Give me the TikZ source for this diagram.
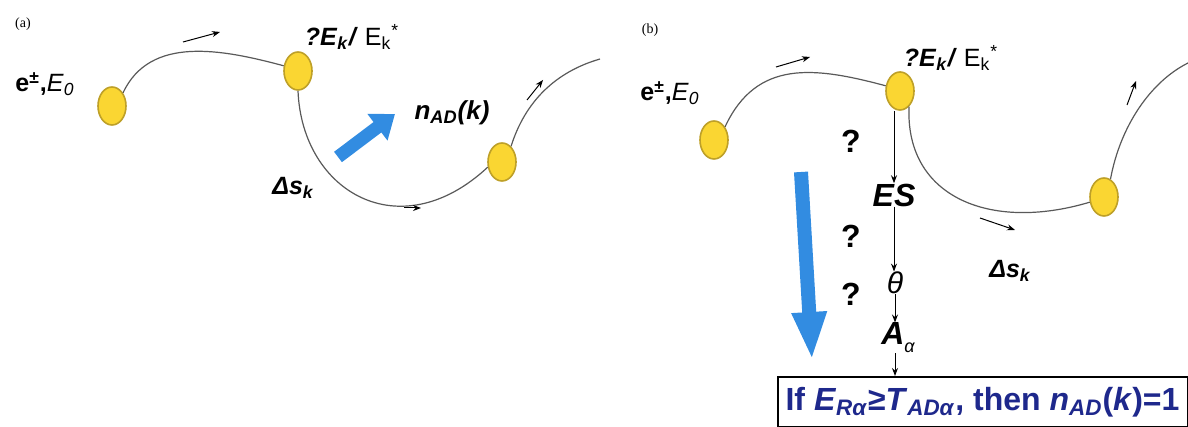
\documentclass[tikz,border=0pt]{standalone}
\usepackage{fontspec}
\setmainfont{Liberation Sans}
\newfontfamily\labelfont{Liberation Serif}
\usetikzlibrary{shapes.geometric,arrows.meta}
\definecolor{dotyellow}{RGB}{250,214,50}
\definecolor{dotedge}{RGB}{190,160,40}
\definecolor{fatblue}{RGB}{50,140,225}
\definecolor{condblue}{RGB}{30,40,140}

\begin{document}
\begin{tikzpicture}[x=0.5pt,y=0.5pt,
    dot/.style={ellipse,draw=dotedge,fill=dotyellow,line width=0.8pt,
        minimum width=14pt,minimum height=19pt,inner sep=0pt},
    track/.style={draw=black!65,line width=0.6pt},
    tick/.style={-{Stealth[length=4pt,width=3pt]},line width=0.5pt},
    fat/.style={fatblue,line width=6.5pt,-{Triangle[length=11pt,width=16pt]}},
    txt/.style={inner sep=0pt,font=\fontsize{12.5}{14}\selectfont},
    big/.style={inner sep=0pt,font=\bfseries\fontsize{16}{18}\selectfont}]
    \useasboundingbox (0,0) rectangle (1188,427);

    % Panel (a)
    \node[inner sep=0pt,font=\labelfont\fontsize{7}{8}\selectfont] (tagA) at (23,403) {(a)};
    \node[txt] (startA) at (45,343) {\textbf{e\textsuperscript{±},}\textit{E}\textsubscript{\textit{0}}};
    \node[dot] (a1) at (112,321) {};
    \node[dot] (a2) at (298,356) {};
    \node[dot] (a3) at (502,265) {};
    \node[txt] (energyA) at (352,390) {\textbf{\textit{?E}\textsubscript{\textit{k}}\textit{/}} E\textsubscript{k}\textsuperscript{*}};
    \node[txt,font=\bfseries\itshape\fontsize{13}{15}\selectfont] (nadA) at (452,314) {n\textsubscript{AD}(k)};
    \node[txt,font=\bfseries\itshape\fontsize{12.5}{14}\selectfont] (stepA) at (293,239) {Δs\textsubscript{k}};
    \coordinate (endA) at (600,368);
    \draw[track] (a1.50) to[out=65,in=165] (a2.160);
    \draw[track] (a2.south) .. controls (302,235) and (400,178) .. (a3.200);
    \draw[track] (a3.60) .. controls (525,325) and (555,355) .. (endA);
    % direction ticks
    \coordinate (ta1) at (183,385); \coordinate (ta2) at (220,395);
    \coordinate (tb1) at (404,219); \coordinate (tb2) at (421,219);
    \coordinate (tc1) at (527,327); \coordinate (tc2) at (543,347);
    \draw[tick] (ta1) -- (ta2);
    \draw[tick] (tb1) -- (tb2);
    \draw[tick] (tc1) -- (tc2);
    % blue arrow
    \coordinate (fa1) at (338,270); \coordinate (fa2) at (395,313);
    \draw[fat] (fa1) -- (fa2);

    % Panel (b)
    \node[inner sep=0pt,font=\labelfont\fontsize{7}{8}\selectfont] (tagB) at (650,397) {(b)};
    \node[txt] (startB) at (670,334) {\textbf{e\textsuperscript{±},}\textit{E}\textsubscript{\textit{0}}};
    \node[dot] (b1) at (714,287) {};
    \node[dot] (b2) at (900,336) {};
    \node[dot] (b3) at (1104,230) {};
    \node[txt] (energyB) at (951,369) {\textbf{\textit{?E}\textsubscript{\textit{k}}\textit{/}} E\textsubscript{k}\textsuperscript{*}};
    \node[txt,font=\bfseries\itshape\fontsize{12.5}{14}\selectfont] (stepB) at (1010,156) {Δs\textsubscript{k}};
    \coordinate (endB) at (1188,364);
    \draw[track] (b1.50) to[out=65,in=165,looseness=1.15] (b2.160);
    \draw[track] (b2.300) .. controls (905,230) and (990,195) .. (b3.200);
    \draw[track] (b3.70) .. controls (1120,300) and (1150,345) .. (endB);
    % direction ticks
    \coordinate (td1) at (776,360); \coordinate (td2) at (810,370);
    \coordinate (te1) at (980,209); \coordinate (te2) at (1015,197);
    \coordinate (tf1) at (1127,322); \coordinate (tf2) at (1136,346);
    \draw[tick] (td1) -- (td2);
    \draw[tick] (te1) -- (te2);
    \draw[tick] (tf1) -- (tf2);

    % cascade
    \node[big,font=\bfseries\itshape\fontsize{16}{18}\selectfont] (es) at (894,232) {ES};
    \node[inner sep=0pt,font=\itshape\fontsize{15}{17}\selectfont] (theta) at (895,144) {θ};
    \node[big,font=\bfseries\itshape\fontsize{16}{18}\selectfont] (atom) at (898,89)
        {A\raisebox{-4pt}{\mdseries\fontsize{9}{10}\selectfont α}};
    \foreach \y [count=\i] in {286,191,133} {
        \node[big] (q\i) at (851,\y) {?};
    }
    \node[draw,line width=1pt,fill=white,minimum width=205pt,minimum height=25pt,
        inner sep=0pt,text=condblue,font=\bfseries\fontsize{16}{18}\selectfont] (cond) at (982.5,25)
        {\raisebox{-2pt}{If \textit{E}\textsubscript{\textit{Rα}}≥\textit{T}\textsubscript{\textit{ADα}}, then \textit{n}\textsubscript{\textit{AD}}(\textit{k})=1}};
    \draw[tick] (es.north |- b2.south) -- (es.north);
    \draw[tick] (es.south) -- (es.south |- theta.north);
    \draw[tick] (theta.south) -- (theta.south |- atom.north);
    \draw[tick] (theta.south |- atom.south) -- (theta.south |- cond.north);
    % blue arrow
    \coordinate (fb1) at (801,255); \coordinate (fb2) at (812,67);
    \draw[fat,line width=7pt,-{Triangle[length=24pt,width=16pt]}] (fb1) -- (fb2);
\end{tikzpicture}
\end{document}
